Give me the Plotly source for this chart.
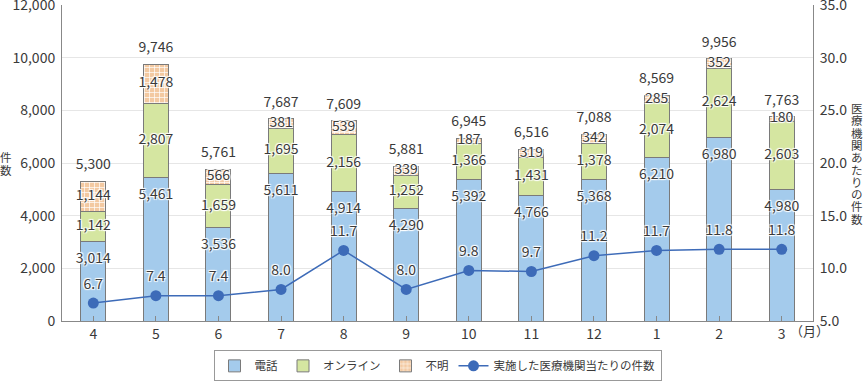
import plotly.graph_objects as go

months = ["4", "5", "6", "7", "8", "9", "10", "11", "12", "1", "2", "3"]
phone = [3014, 5461, 3536, 5611, 4914, 4290, 5392, 4766, 5368, 6210, 6980, 4980]
online = [1142, 2807, 1659, 1695, 2156, 1252, 1366, 1431, 1378, 2074, 2624, 2603]
unknown = [1144, 1478, 566, 381, 539, 339, 187, 319, 342, 285, 352, 180]
rate = [6.7, 7.4, 7.4, 8.0, 11.7, 8.0, 9.8, 9.7, 11.2, 11.7, 11.8, 11.8]
left_title = "件数"
right_title = "医療機関あたりの件数"

totals = [p + o + u for p, o, u in zip(phone, online, unknown)]
x = list(range(len(months)))

FONT = "Noto Sans CJK JP"
TXT = "#3a3a3a"
HALO = ("1px 1px 1px #fff, -1px -1px 1px #fff, 1px -1px 1px #fff, -1px 1px 1px #fff")
fmt = lambda v: f"{v:,}"
ghost = lambda s: dict(size=s, opacity=0, color="white")

fig = go.Figure()
outline = dict(color="#7a7a7a", width=1)
fig.add_bar(x=x, y=phone, name="電話", width=0.4,
            marker=dict(color="#a4cbec", line=outline))
fig.add_bar(x=x, y=online, name="オンライン", width=0.4,
            marker=dict(color="#d5e6a1", line=outline))
fig.add_bar(x=x, y=unknown, name="不明", width=0.4,
            marker=dict(color="#f3c9a1", line=outline,
                        pattern=dict(shape="+", fgcolor="#ffffff", bgcolor="#f3c9a1",
                                     size=5, solidity=0.25)))

tf = dict(family=FONT, size=14, color=TXT, shadow=HALO)
# labels
fig.add_scatter(x=x, y=phone, mode="markers+text", marker=ghost(16),
                text=[fmt(v) for v in phone],
                textposition="bottom center", textfont=tf, showlegend=False, hoverinfo="skip")
fig.add_scatter(x=x, y=[p + o / 2 for p, o in zip(phone, online)], mode="text",
                text=[fmt(v) for v in online], textposition="middle center",
                textfont=tf, showlegend=False, hoverinfo="skip")
fig.add_scatter(x=x, y=[p + o + u / 2 for p, o, u in zip(phone, online, unknown)], mode="text",
                text=[fmt(v) for v in unknown], textposition="middle center",
                textfont=tf, showlegend=False, hoverinfo="skip")
fig.add_scatter(x=x, y=totals, mode="markers+text", marker=ghost(12),
                text=[fmt(v) for v in totals],
                textposition="top center", textfont=dict(family=FONT, size=14, color=TXT),
                showlegend=False, hoverinfo="skip")

fig.add_scatter(x=x, y=rate, yaxis="y2", name="実施した医療機関当たりの件数",
                mode="lines+markers",
                line=dict(color="#3d6bb8", width=1.5),
                marker=dict(color="#3d6bb8", size=11))
fig.add_scatter(x=x, y=rate, yaxis="y2", mode="markers+text", marker=ghost(16),
                text=[f"{v:.1f}" for v in rate], textposition="top center",
                textfont=tf, showlegend=False, hoverinfo="skip")

fig.update_layout(
    template="none",
    width=863, height=383,
    margin=dict(l=62, r=50, t=5, b=62, autoexpand=False),
    barmode="stack",
    plot_bgcolor="white", paper_bgcolor="white",
    font=dict(family=FONT, size=14, color=TXT),
    showlegend=True,
    legend=dict(orientation="h", x=0.5, xanchor="center", y=-0.142, yanchor="middle",
                bordercolor="#999999", borderwidth=1, font=dict(size=11.5),
                traceorder="normal", itemwidth=30, tracegroupgap=0),
    xaxis=dict(tickmode="array", tickvals=x, ticktext=months, range=[-0.5, 11.5],
               showline=True, linecolor="#888888", linewidth=1, ticks="inside",
               tickson="boundaries", ticklen=5, tickcolor="#888888", showgrid=False,
               zeroline=False, automargin=False),
    yaxis=dict(range=[0, 12000], dtick=2000, tickformat=",", showline=True,
               linecolor="#888888", linewidth=1, gridcolor="#e6e6e6", gridwidth=1,
               zeroline=False, ticks="", automargin=False, ticklabeloverflow="allow",
               ticklabelstandoff=3),
    yaxis2=dict(range=[5, 35], dtick=5, tickformat=".1f", overlaying="y", side="right",
                showline=True, linecolor="#888888", linewidth=1, showgrid=False,
                zeroline=False, ticks="", automargin=False, ticklabeloverflow="allow",
                ticklabelstandoff=3),
)

# vertical (upright) axis titles, one character per line
for i, ch in enumerate(left_title):
    fig.add_annotation(text=ch, xref="paper", yref="y domain", x=0, xshift=-56,
                       y=1, yshift=-152 - 12.5 * i, xanchor="center", yanchor="middle",
                       showarrow=False, font=dict(size=11.5, color=TXT))
for i, ch in enumerate(right_title):
    fig.add_annotation(text=ch, xref="paper", yref="y domain", x=1, xshift=44,
                       y=1, yshift=-103 - 12.3 * i, xanchor="center", yanchor="middle",
                       showarrow=False, font=dict(size=11.5, color=TXT))
fig.add_annotation(text="（月）", xref="paper", yref="paper", x=1, xshift=-4, y=0, yshift=-9,
                   xanchor="center", yanchor="middle", showarrow=False,
                   font=dict(size=13, color=TXT))

fig.write_html("out.html", config={"displayModeBar": False},
               post_script="document.body.style.margin='0px';document.body.style.padding='0px';")
